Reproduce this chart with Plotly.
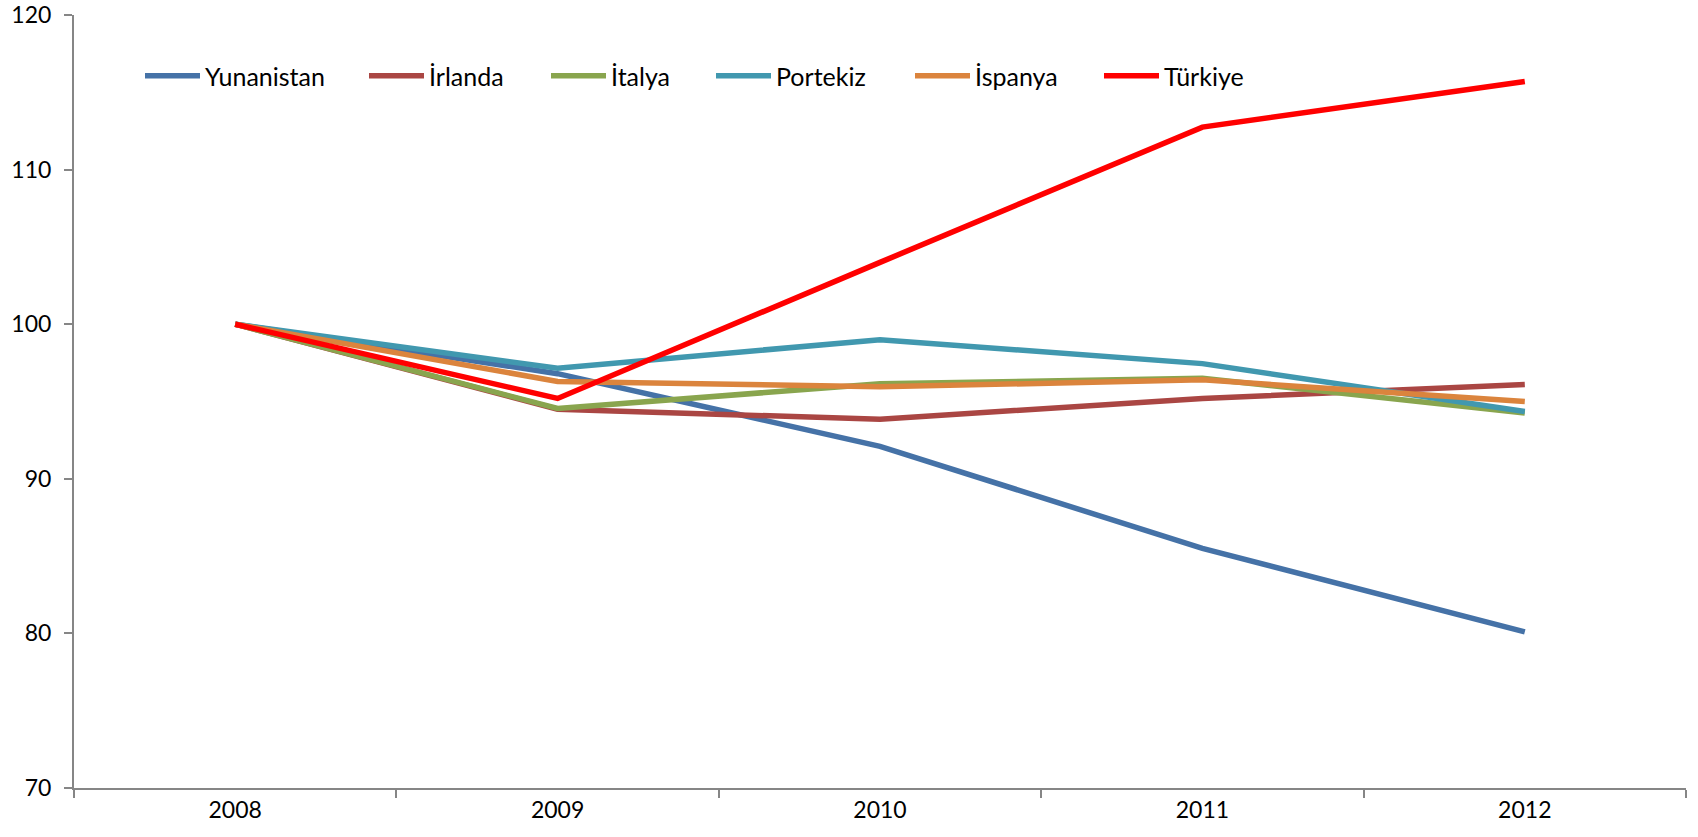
import plotly.graph_objects as go

# Index values, 2008 = 100
years = ["2008", "2009", "2010", "2011", "2012"]
yunanistan = [100, 96.8, 92.1, 85.5, 80.1]
irlanda = [100, 94.5, 93.85, 95.2, 96.1]
italya = [100, 94.55, 96.15, 96.5, 94.25]
portekiz = [100, 97.15, 99.0, 97.45, 94.35]
ispanya = [100, 96.3, 95.95, 96.4, 95.0]
turkiye = [100, 95.2, 104.0, 112.75, 115.7]

series_names = ["Yunanistan", "İrlanda", "İtalya", "Portekiz", "İspanya", "Türkiye"]
series_values = [yunanistan, irlanda, italya, portekiz, ispanya, turkiye]
series_colors = ["#4572A7", "#AA4643", "#89A54E", "#4198AF", "#DB843D", "#FF0000"]
legend_text_x = [205, 429, 611, 776, 975, 1164]  # pixel position of each legend label

W, H = 1698, 837
ML, MR, MT, MB = 74, 12, 15, 49
PW = W - ML - MR
PH = H - MT - MB

FONT = "Lato"
AXIS_COLOR = "#868686"
ITEM_W = 55

fig = go.Figure()
layout_legends = {}
for i, (name, vals, col, tx) in enumerate(zip(series_names, series_values, series_colors, legend_text_x)):
    key = "legend" if i == 0 else f"legend{i + 1}"
    fig.add_trace(go.Scatter(
        x=years, y=vals, name=name, mode="lines",
        line=dict(color=col, width=5.5),
        legend=key,
    ))
    layout_legends[key] = dict(
        x=(tx - ITEM_W - 10 - ML) / PW, xanchor="left",
        y=(H - MB - 76) / PH, yanchor="middle",
        orientation="h",
        itemwidth=ITEM_W,
        bgcolor="rgba(0,0,0,0)",
        borderwidth=0,
        font=dict(family=FONT, size=25, color="#000000"),
    )

fig.update_layout(
    width=W, height=H,
    margin=dict(l=ML, r=MR, t=MT, b=MB, autoexpand=False),
    paper_bgcolor="white", plot_bgcolor="white",
    showlegend=True,
    **layout_legends,
)

fig.update_xaxes(
    type="category", range=[-0.5, 4.5], automargin=False,
    showline=True, linecolor=AXIS_COLOR, linewidth=2,
    ticks="outside", tickson="boundaries", ticklen=8, tickwidth=1.5, tickcolor=AXIS_COLOR,
    showgrid=False, zeroline=False,
    tickfont=dict(family=FONT, size=23, color="#000000"),
)
fig.update_yaxes(
    range=[70, 120], dtick=10, tick0=70, automargin=False,
    showline=True, linecolor=AXIS_COLOR, linewidth=2,
    ticks="outside", ticklen=8, tickwidth=1.5, tickcolor=AXIS_COLOR,
    showgrid=False, zeroline=False,
    ticklabelstandoff=8,
    tickfont=dict(family=FONT, size=23, color="#000000"),
)

fig.write_html("out.html")
